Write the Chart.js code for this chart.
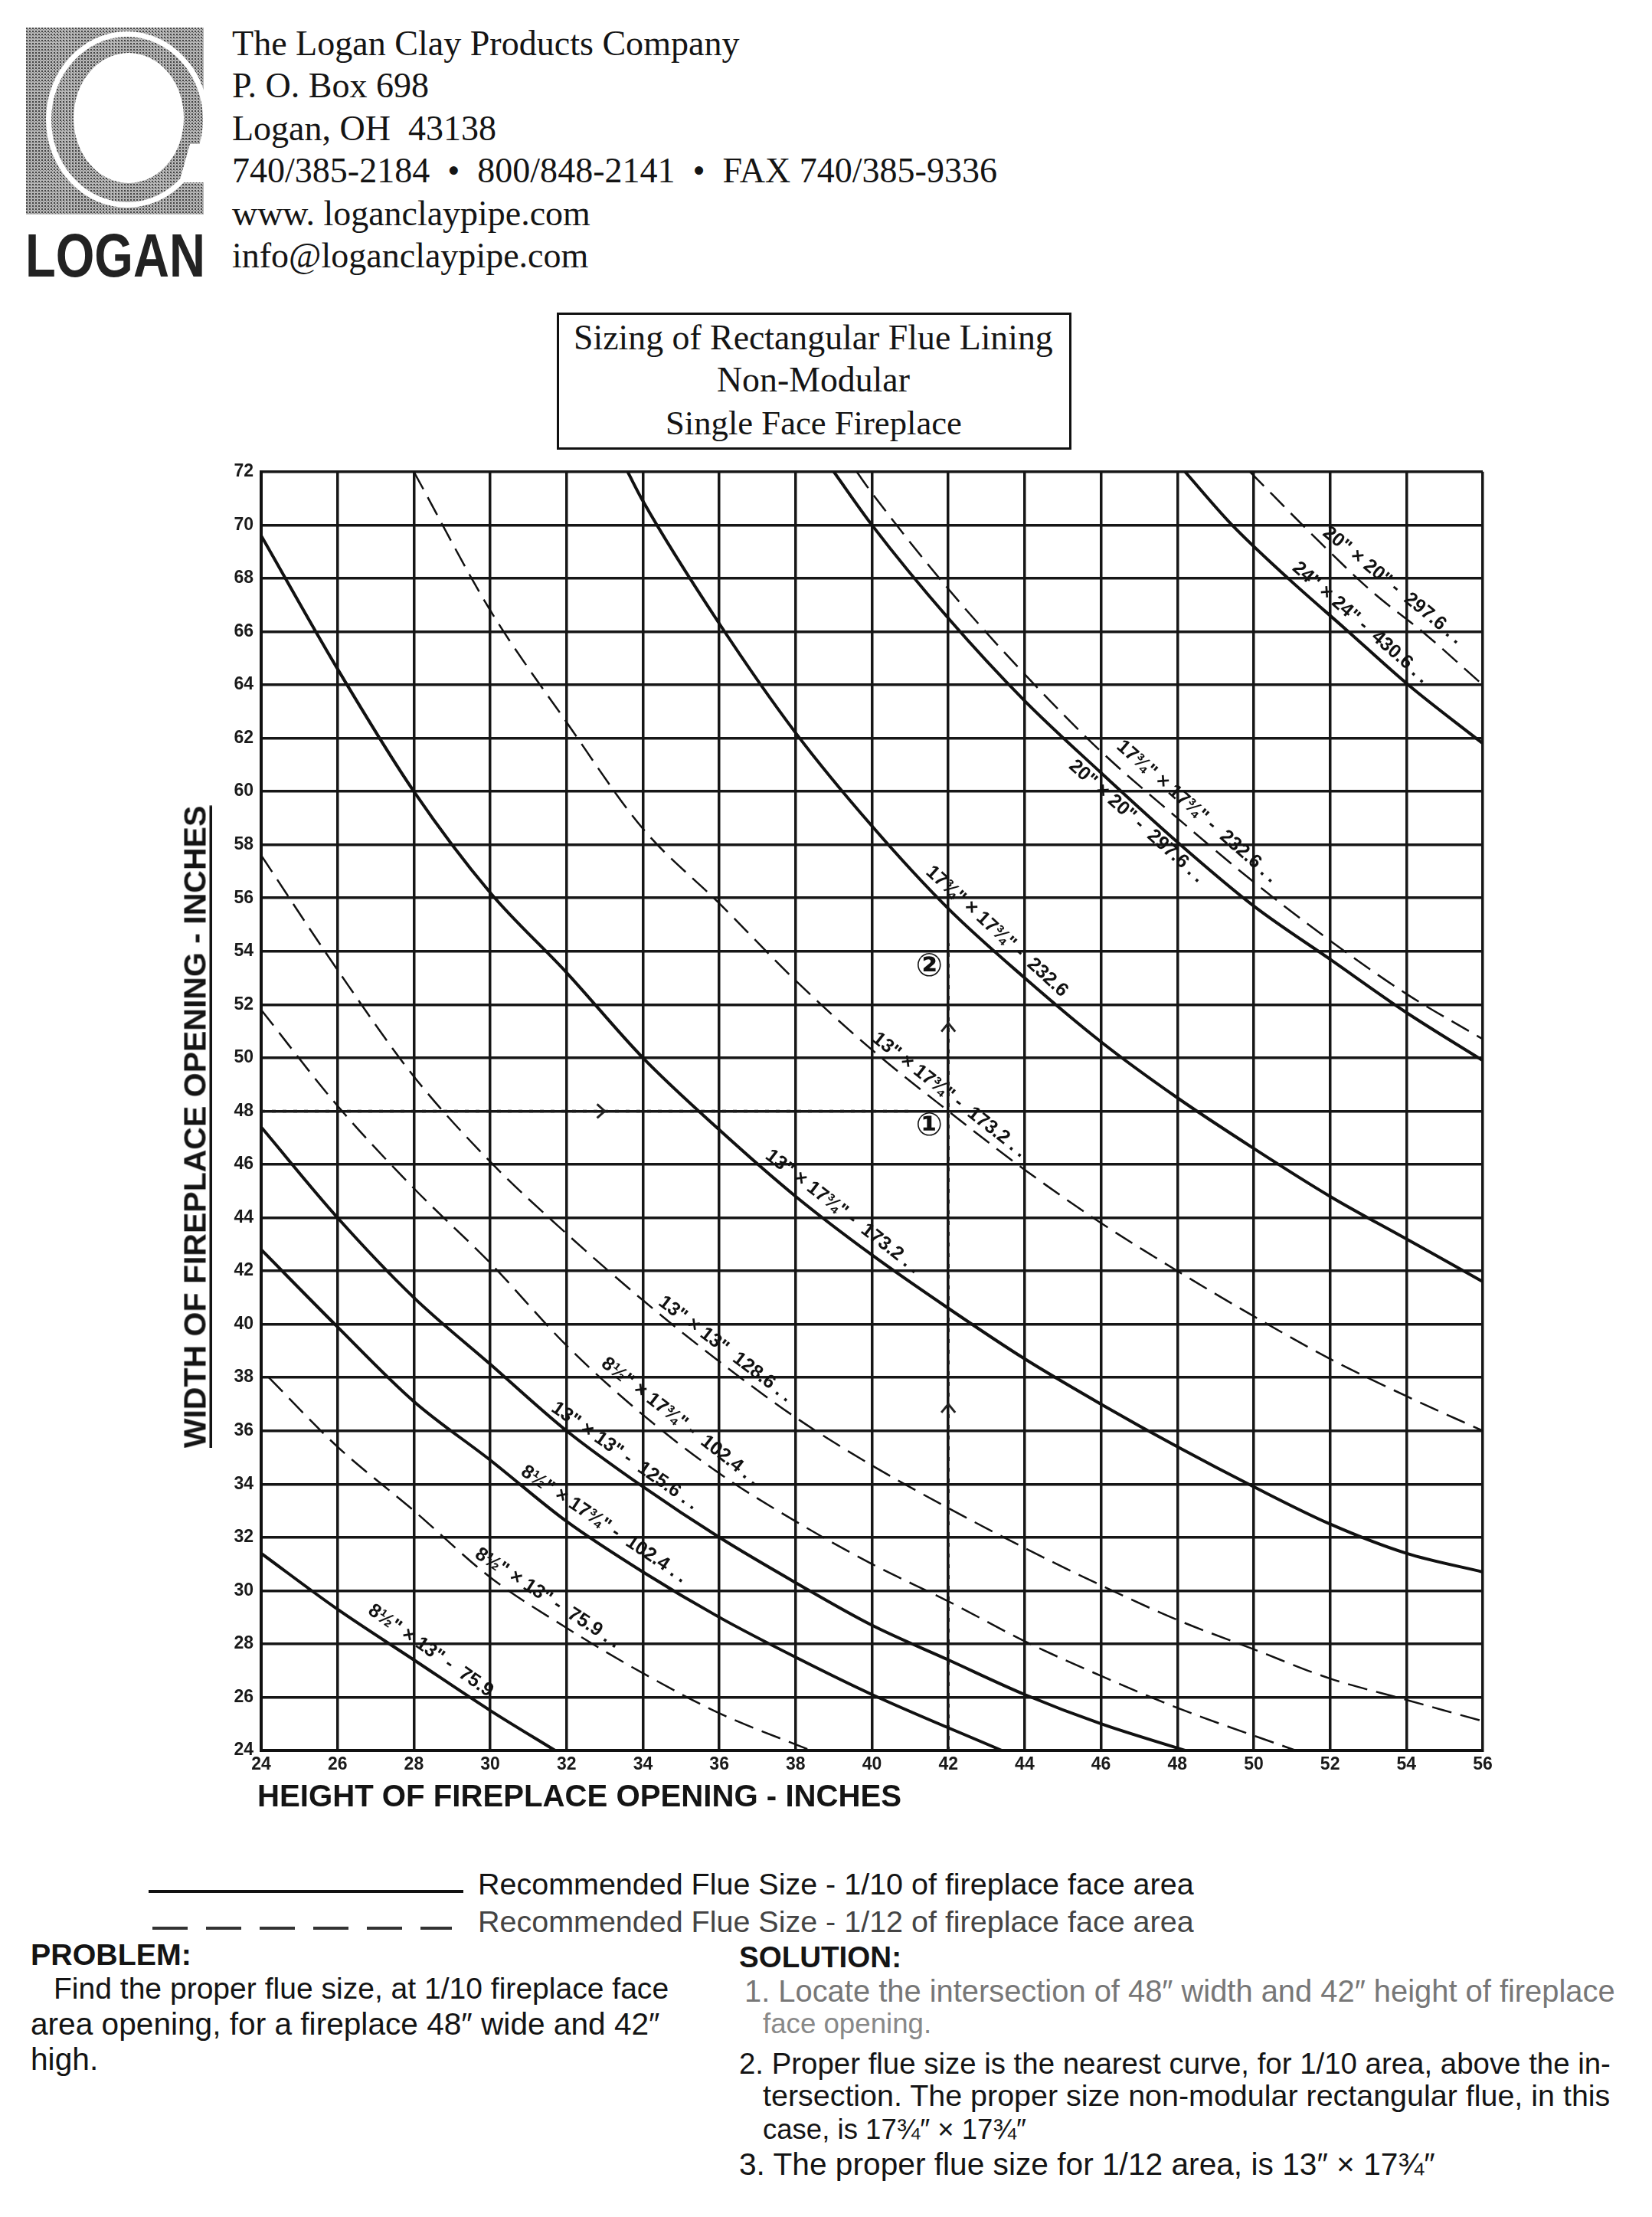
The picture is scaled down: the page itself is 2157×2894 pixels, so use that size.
<!DOCTYPE html>
<html>
<head>
<meta charset="utf-8">
<title>Sizing of Rectangular Flue Lining</title>
<script src="https://cdn.jsdelivr.net/npm/chart.js@4.4.1/dist/chart.umd.min.js"></script>
<style>
  html, body { margin: 0; padding: 0; background: #fff; }
  #page { position: relative; width: 2157px; height: 2894px; overflow: hidden; background: #fff; color: #141414; }
  .t { position: absolute; white-space: nowrap; line-height: 1; }
  .serif { font-family: "Liberation Serif", "Times New Roman", serif; }
  .sans { font-family: "Liberation Sans", Arial, sans-serif; }
  .bold { font-weight: bold; }
  #titleBox { position: absolute; left: 727px; top: 408px; width: 666px; height: 173px; border: 3px solid #111; }
  #chart { position: absolute; left: 241px; top: 592px; }
  #ytitle { transform: translate(-50%, -50%) rotate(-90deg); text-decoration: underline; text-decoration-thickness: 4px; text-underline-offset: 5px; }
  .legline { position: absolute; height: 4px; }
</style>
</head>
<body>
<div id="page">
  <!-- logo -->
  <svg style="position:absolute;left:34px;top:36px" width="232" height="246" viewBox="0 0 232 246">
    <defs>
      <pattern id="ht" width="4" height="4" patternUnits="userSpaceOnUse">
        <rect width="4" height="4" fill="#b8b8b8"/>
        <rect width="2" height="2" fill="#444"/>
        <rect x="2" y="2" width="1" height="1" fill="#666"/>
      </pattern>
    </defs>
    <rect x="0" y="0" width="232" height="244" fill="url(#ht)"/>
    <ellipse cx="132" cy="120" rx="106" ry="115" fill="#fff"/>
    <ellipse cx="132" cy="120" rx="99" ry="108" fill="url(#ht)"/>
    <ellipse cx="134" cy="118" rx="72" ry="85" fill="#fff"/>
    <path d="M 214 152 L 232 152 L 232 202 L 200 202 Z" fill="#fff"/>
  </svg>
  <div class="t sans bold" id="logan" style="left:33px;font-size:80px;color:#222" data-cy="334" data-w="235" data-scale="1">LOGAN</div>

  <!-- address -->
  <div class="t serif" style="left:303px" data-cy="57" data-w="662">The Logan Clay Products Company</div>
  <div class="t serif" style="left:303px" data-cy="112" data-w="256">P. O. Box 698</div>
  <div class="t serif" style="left:303px" data-cy="168" data-w="345">Logan, OH&nbsp; 43138</div>
  <div class="t serif" style="left:303px" data-cy="223" data-w="998">740/385-2184 &nbsp;•&nbsp; 800/848-2141 &nbsp;•&nbsp; FAX 740/385-9336</div>
  <div class="t serif" style="left:303px" data-cy="279" data-w="468">www. loganclaypipe.com</div>
  <div class="t serif" style="left:303px" data-cy="334" data-w="466">info@loganclaypipe.com</div>

  <!-- title box -->
  <div id="titleBox"></div>
  <div class="t serif" style="left:749px" data-cy="441" data-w="627">Sizing of Rectangular Flue Lining</div>
  <div class="t serif" style="left:936px" data-cy="496" data-w="252">Non-Modular</div>
  <div class="t serif" style="left:869px" data-cy="552" data-w="388">Single Face Fireplace</div>

  <canvas id="chart" width="1720" height="1768"></canvas>

  <div class="t sans bold" id="ytitle" style="left:255px;top:1471px;font-size:40px">WIDTH OF FIREPLACE OPENING - INCHES</div>
  <div class="t sans bold" style="left:336px" data-cy="2345" data-w="841">HEIGHT OF FIREPLACE OPENING - INCHES</div>

  <!-- legend -->
  <div class="legline" style="left:194px;top:2467px;width:411px;background:#111"></div>
  <div class="legline" style="left:199px;top:2515px;width:391px;background:repeating-linear-gradient(90deg,#333 0 46px,transparent 46px 70px)"></div>
  <div class="t sans" style="left:624px" data-cy="2460" data-w="935">Recommended Flue Size - 1/10 of fireplace face area</div>
  <div class="t sans" style="left:624px;color:#444" data-cy="2509" data-w="935">Recommended Flue Size - 1/12 of fireplace face area</div>

  <!-- problem / solution -->
  <div class="t sans bold" style="left:40px" data-cy="2552" data-w="209">PROBLEM:</div>
  <div class="t sans bold" style="left:965px" data-cy="2555" data-w="212">SOLUTION:</div>
  <div class="t sans" style="left:70px" data-cy="2596" data-w="803">Find the proper flue size, at 1/10 fireplace face</div>
  <div class="t sans" style="left:40px" data-cy="2642" data-w="823">area opening, for a fireplace 48″ wide and 42″</div>
  <div class="t sans" style="left:40px" data-cy="2688" data-w="89">high.</div>
  <div class="t sans" style="left:972px;color:#777" data-cy="2600" data-w="1137">1. Locate the intersection of 48″ width and 42″ height of fireplace</div>
  <div class="t sans" style="left:996px;color:#888" data-cy="2642" data-w="220">face opening.</div>
  <div class="t sans" style="left:965px" data-cy="2694" data-w="1138">2. Proper flue size is the nearest curve, for 1/10 area, above the in-</div>
  <div class="t sans" style="left:996px" data-cy="2736" data-w="1107">tersection. The proper size non-modular rectangular flue, in this</div>
  <div class="t sans" style="left:996px" data-cy="2780" data-w="345">case, is 17¾″ × 17¾″</div>
  <div class="t sans" style="left:965px" data-cy="2825" data-w="908">3. The proper flue size for 1/12 area, is 13″ × 17¾″</div>
</div>

<script>
// axis ticks
const heightTicks = [24, 26, 28, 30, 32, 34, 36, 38, 40, 42, 44, 46, 48, 50, 52, 54, 56];
const widthTicks = [24, 26, 28, 30, 32, 34, 36, 38, 40, 42, 44, 46, 48, 50, 52, 54, 56, 58, 60, 62, 64, 66, 68, 70, 72];

// curves: fireplace height (x) and width (y)
// solid = 1/10 of face area, dashed = 1/12
const solid759H = [24, 26, 28, 30, 31.7];
const solid759W = [31.4, 29.3, 27.4, 25.5, 24.0];
const dash759H = [24.2, 26, 28, 30, 32, 34, 36, 38.4];
const dash759W = [38.0, 35.4, 33.0, 30.5, 28.6, 26.9, 25.4, 24.0];

const solid1024H = [24, 26, 28, 30, 32, 34, 36, 38, 40, 43.4];
const solid1024W = [42.8, 39.9, 37.1, 34.9, 32.6, 30.7, 29.0, 27.5, 26.1, 24.0];
const dash1024H = [24, 26, 28, 30, 32, 34, 36, 38, 40, 42, 44, 46, 48, 51.1];
const dash1024W = [51.8, 48.2, 45.1, 42.3, 39.2, 36.6, 34.4, 32.6, 31.0, 29.6, 28.1, 26.8, 25.6, 24.0];

const solid1256H = [24, 26, 28, 30, 32, 34, 36, 38, 40, 42, 44, 46, 48.2];
const solid1256W = [47.4, 44.0, 41.0, 38.5, 36.0, 33.9, 32.0, 30.3, 28.7, 27.4, 26.1, 25.0, 24.0];
const dash1256H = [24, 26, 28, 30, 32, 34, 36, 38, 40, 42, 44, 46, 48, 50, 52, 54, 56];
const dash1256W = [57.6, 53.3, 49.3, 46.1, 43.4, 40.9, 38.6, 36.5, 34.7, 33.1, 31.6, 30.2, 28.9, 27.8, 26.7, 25.9, 25.1];

const solid1732H = [24, 26, 28, 30, 32, 34, 36, 38, 40, 42, 44, 46, 48, 50, 52, 54, 56];
const solid1732W = [69.6, 64.6, 60.0, 56.2, 53.2, 50.0, 47.3, 44.8, 42.6, 40.6, 38.7, 37.0, 35.4, 33.9, 32.5, 31.4, 30.7];
const dash1732H = [28, 30, 32, 34, 36, 38, 40, 42, 44, 46, 48, 50, 52, 54, 56];
const dash1732W = [72.0, 66.8, 62.6, 58.6, 55.8, 52.9, 50.3, 48.0, 45.8, 43.8, 42.0, 40.3, 38.7, 37.3, 36.0];

const solid2326H = [33.6, 34, 36, 38, 40, 42, 44, 46, 48, 50, 52, 54, 56];
const solid2326W = [72.0, 70.9, 66.3, 62.2, 58.7, 55.6, 53.0, 50.6, 48.5, 46.6, 44.8, 43.2, 41.6];
const dash2326H = [39.6, 40, 42, 44, 46, 48, 50, 52, 54, 56];
const dash2326W = [72.0, 71.2, 67.6, 64.4, 61.5, 59.0, 56.6, 54.4, 52.4, 50.7];

const solid2976H = [39.0, 40, 42, 44, 46, 48, 50, 52, 54, 56];
const solid2976W = [72.0, 70.0, 66.5, 63.4, 60.7, 58.1, 55.7, 53.7, 51.7, 49.9];
const dash2976H = [49.9, 51.7, 53.1, 54.5, 56];
const dash2976W = [72.0, 69.4, 67.5, 65.9, 64.0];

const solid4306H = [48.2, 49.4, 50.9, 52.4, 54.05, 56];
const solid4306W = [72.0, 70.05, 68.0, 66.1, 64.0, 61.8];

// worked example: 48" wide, 42" high
const exampleAcrossH = [24, 41.0];
const exampleAcrossW = [48, 48];
const exampleUpH = [42, 42];
const exampleUpW = [24, 54.3];

// labels written along the curves (start and end point on the curve)
const curveLabels = [
  { text: '8½" × 13" -  75.9', from: [26.6, 29.0], to: [30.2, 25.4] },
  { text: '8½" × 13" -  75.9 . .', from: [29.4, 31.1], to: [33.6, 27.2] },
  { text: '8½" × 17¾" -  102.4 . .', from: [30.6, 34.2], to: [35.6, 29.4] },
  { text: '13" × 13" -  125.6 . .', from: [31.4, 36.6], to: [35.8, 32.2] },
  { text: '8½" × 17¾" -  102.4 . .', from: [32.7, 38.3], to: [36.8, 33.7] },
  { text: '13" × 13"  128.6 . .', from: [34.2, 40.6], to: [37.6, 36.9] },
  { text: '13" × 17¾" -  173.2 . .', from: [37.0, 46.1], to: [41.6, 41.0] },
  { text: '13" × 17¾" -  173.2 . .', from: [39.8, 50.5], to: [43.8, 46.0] },
  { text: '17¾" × 17¾" -  232.6', from: [41.2, 56.8], to: [45.8, 50.8] },
  { text: '17¾" × 17¾" -  232.6 . .', from: [46.2, 61.5], to: [50.2, 56.5] },
  { text: '20" × 20" -  297.6 . .', from: [45.4, 61.5], to: [49.4, 56.4], below: true },
  { text: '20" × 20" -  297.6 . .', from: [51.6, 69.5], to: [55.2, 65.3] },
  { text: '24" × 24" -  430.6 . .', from: [50.8, 68.2], to: [54.4, 63.7] }
];
const stepMarks = [
  { text: '②', at: [41.5, 53.4] },
  { text: '①', at: [41.5, 47.4] }
];
const arrowMarks = [
  { at: [33.0, 48], dir: 'right' },
  { at: [42, 37.0], dir: 'up' },
  { at: [42, 51.3], dir: 'up' }
];

// fit text widths to the sheet
document.querySelectorAll('[data-w]').forEach(el => {
  const target = +el.dataset.w;
  if (el.dataset.scale) {
    el.style.transformOrigin = '0 50%';
    el.style.transform = 'scaleX(' + (target / el.offsetWidth).toFixed(3) + ')';
  } else {
    const fs = parseFloat(getComputedStyle(el).fontSize);
    el.style.fontSize = (fs * target / el.offsetWidth).toFixed(2) + 'px';
  }
  const size = parseFloat(el.style.fontSize || getComputedStyle(el).fontSize);
  el.style.top = (+el.dataset.cy - size / 2) + 'px';
});
const yt = document.getElementById('ytitle');
yt.style.fontSize = (40 * 839 / yt.offsetWidth).toFixed(2) + 'px';

const zip = (hs, ws) => hs.map((h, i) => ({ x: h, y: ws[i] }));
const curve = (hs, ws, dashed) => ({
  data: zip(hs, ws),
  showLine: true,
  fill: false,
  borderColor: '#111',
  borderWidth: dashed ? 2.5 : 4,
  borderDash: dashed ? [26, 12] : [],
  pointRadius: 0,
  cubicInterpolationMode: 'monotone'
});
const dotted = (hs, ws) => ({
  data: zip(hs, ws),
  showLine: true,
  fill: false,
  borderColor: '#1a1a1a',
  borderWidth: 3.5,
  borderDash: [5, 9],
  pointRadius: 0
});

const annotate = {
  id: 'annotate',
  afterDatasetsDraw(chart) {
    const { ctx, scales: { x, y } } = chart;
    ctx.save();
    ctx.fillStyle = '#111';
    ctx.font = 'bold 25px "Liberation Sans", Arial, sans-serif';
    curveLabels.forEach(l => {
      const x1 = x.getPixelForValue(l.from[0]), y1 = y.getPixelForValue(l.from[1]);
      const x2 = x.getPixelForValue(l.to[0]), y2 = y.getPixelForValue(l.to[1]);
      ctx.save();
      ctx.translate(x1, y1);
      ctx.rotate(Math.atan2(y2 - y1, x2 - x1));
      ctx.textBaseline = l.below ? 'top' : 'bottom';
      ctx.fillText(l.text, 4, l.below ? 5 : -4);
      ctx.restore();
    });

    ctx.font = 'bold 42px "DejaVu Sans", sans-serif';
    ctx.textAlign = 'center';
    ctx.textBaseline = 'middle';
    stepMarks.forEach(m => {
      ctx.fillText(m.text, x.getPixelForValue(m.at[0]), y.getPixelForValue(m.at[1]));
    });

    ctx.strokeStyle = '#222';
    ctx.lineWidth = 3;
    arrowMarks.forEach(a => {
      const px = x.getPixelForValue(a.at[0]), py = y.getPixelForValue(a.at[1]);
      ctx.beginPath();
      if (a.dir === 'right') {
        ctx.moveTo(px - 10, py - 9); ctx.lineTo(px, py); ctx.lineTo(px - 10, py + 9);
      } else {
        ctx.moveTo(px - 9, py + 11); ctx.lineTo(px, py); ctx.lineTo(px + 9, py + 11);
      }
      ctx.stroke();
    });
    ctx.restore();
  }
};

const tickFont = { family: '"Liberation Sans", Arial, sans-serif', size: 23, weight: 'bold' };

new Chart(document.getElementById('chart'), {
  type: 'scatter',
  data: {
    datasets: [
      curve(solid759H, solid759W, false),
      curve(dash759H, dash759W, true),
      curve(solid1024H, solid1024W, false),
      curve(dash1024H, dash1024W, true),
      curve(solid1256H, solid1256W, false),
      curve(dash1256H, dash1256W, true),
      curve(solid1732H, solid1732W, false),
      curve(dash1732H, dash1732W, true),
      curve(solid2326H, solid2326W, false),
      curve(dash2326H, dash2326W, true),
      curve(solid2976H, solid2976W, false),
      curve(dash2976H, dash2976W, true),
      curve(solid4306H, solid4306W, false),
      dotted(exampleAcrossH, exampleAcrossW),
      dotted(exampleUpH, exampleUpW)
    ]
  },
  options: {
    responsive: false,
    devicePixelRatio: 1,
    animation: false,
    layout: { padding: { left: 0, top: 20, right: 25, bottom: 0 } },
    plugins: { legend: { display: false }, tooltip: { enabled: false } },
    scales: {
      x: {
        type: 'linear',
        min: heightTicks[0],
        max: heightTicks[heightTicks.length - 1],
        afterBuildTicks: (scale) => { scale.ticks = heightTicks.map(v => ({ value: v })); },
        afterFit: (scale) => { scale.height = 75; },
        grid: { color: '#161616', lineWidth: 3.5, drawTicks: false },
        border: { display: true, color: '#111', width: 4 },
        ticks: { font: tickFont, color: '#1a1a1a', padding: 5 }
      },
      y: {
        type: 'linear',
        min: widthTicks[0],
        max: widthTicks[widthTicks.length - 1],
        afterBuildTicks: (scale) => { scale.ticks = widthTicks.map(v => ({ value: v })); },
        afterFit: (scale) => { scale.width = 100; },
        grid: { color: '#161616', lineWidth: 3.5, drawTicks: false },
        border: { display: true, color: '#111', width: 4 },
        ticks: { font: tickFont, color: '#1a1a1a', padding: 10 }
      }
    }
  },
  plugins: [annotate]
});
</script>
</body>
</html>
